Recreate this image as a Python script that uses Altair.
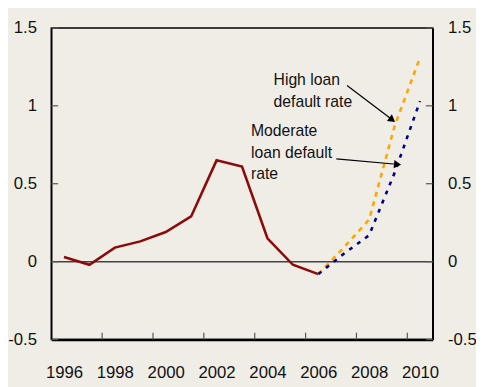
import math
import altair as alt
import pandas as pd

# ---- data ----
hist_years = [1996.5, 1997.5, 1998.5, 1999.5, 2000.5, 2001.5, 2002.5, 2003.5, 2004.5, 2005.5, 2006.5]
hist_vals = [0.03, -0.02, 0.09, 0.13, 0.19, 0.29, 0.65, 0.61, 0.15, -0.02, -0.08]

fc_years = [2006.5, 2007.5, 2008.5, 2009.5, 2010.5]
high_vals = [-0.08, 0.09, 0.27, 0.87, 1.31]
mod_vals = [-0.08, 0.05, 0.17, 0.57, 1.03]

x_ticks = [1996, 1998, 2000, 2002, 2004, 2006, 2008, 2010]
inner_x_ticks = [1998, 2000, 2002, 2004, 2006, 2008, 2010]
y_ticks = [-0.5, 0, 0.5, 1, 1.5]

ann_text = ["High loan\ndefault rate", "Moderate\nloan default\nrate"]
ann_x = [2004.74, 2003.85]
ann_y = [1.134, 0.806]
arrow_x1 = [2007.63, 2007.21]
arrow_y1 = [1.13, 0.66]
arrow_x2 = [2009.37, 2009.57]
arrow_y2 = [0.915, 0.625]

# ---- styling ----
W, H = 388, 317
FONT = "Liberation Sans, Arial, sans-serif"
BG = "#F0EDE7"
RED = "#8B0A0A"
ORANGE = "#FFA500"
NAVY = "#00008B"
FS = 17

xs = alt.Scale(domain=[1996, 2011], nice=False, zero=False)
ys = alt.Scale(domain=[-0.5, 1.5], nice=False, zero=False)

hist = pd.DataFrame({"year": hist_years, "value": hist_vals})
fc = pd.DataFrame({"year": fc_years, "high": high_vals, "mod": mod_vals})
ann = pd.DataFrame({"text": ann_text, "x": ann_x, "y": ann_y})
arr = pd.DataFrame({"x1": arrow_x1, "y1": arrow_y1, "x2": arrow_x2, "y2": arrow_y2})
arr["angle"] = [
    (math.degrees(math.atan2((b - a) * W / 15, (d - c) * H / 2)) % 360)
    for a, b, c, d in zip(arr.x1, arr.x2, arr.y1, arr.y2)
]
xt = pd.DataFrame({"x": inner_x_ticks})
yt = pd.DataFrame({"y": y_ticks})

x_axis = alt.Axis(
    values=x_ticks, format="d", ticks=False, grid=False, labelOffset=W / 15 / 2,
    labelPadding=26, labelFontSize=FS, labelFont=FONT, labelColor="#111",
    domainColor="#000", domainWidth=2.5, title=None, labelFlush=False,
)
yl_axis = alt.Axis(
    values=y_ticks, labelExpr="'' + datum.value", ticks=False, grid=False,
    labelPadding=15, labelFontSize=FS, labelFont=FONT, labelColor="#111",
    domainColor="#000", domainWidth=1.5, title=None, labelFlush=False,
)
yr_axis = alt.Axis(
    values=y_ticks, labelExpr="'' + datum.value", ticks=False, grid=False,
    labelPadding=15, labelFontSize=FS, labelFont=FONT, labelColor="#111",
    domainColor="#000", domainWidth=1.5, title=None, orient="right", labelFlush=False,
)

zero = alt.Chart(pd.DataFrame({"y": [0]})).mark_rule(color="#444", strokeWidth=1.5).encode(
    y=alt.Y("y:Q", scale=ys, axis=yl_axis)
)

xticks = alt.Chart(xt).mark_rule(color="#555", strokeWidth=1.2).encode(
    x=alt.X("x:Q", scale=xs, axis=x_axis), y=alt.value(H), y2=alt.value(H - 7)
)
lticks = alt.Chart(yt).mark_rule(color="#555", strokeWidth=1.2).encode(
    y=alt.Y("y:Q", scale=ys), x=alt.value(0), x2=alt.value(7)
)

line_hist = alt.Chart(hist).mark_line(color=RED, strokeWidth=2.6).encode(
    x=alt.X("year:Q", scale=xs), y=alt.Y("value:Q", scale=ys)
)
line_high = alt.Chart(fc).mark_line(color=ORANGE, strokeWidth=2.6, strokeDash=[5, 5]).encode(
    x=alt.X("year:Q", scale=xs), y=alt.Y("high:Q", scale=ys)
)
line_mod = alt.Chart(fc).mark_line(color=NAVY, strokeWidth=2.6, strokeDash=[4, 6]).encode(
    x=alt.X("year:Q", scale=xs), y=alt.Y("mod:Q", scale=ys)
)

texts = alt.Chart(ann).mark_text(
    align="left", baseline="alphabetic", font=FONT, fontSize=16, lineHeight=22,
    color="#111", lineBreak="\n",
).encode(x=alt.X("x:Q", scale=xs), y=alt.Y("y:Q", scale=ys), text="text:N")

arrow_lines = alt.Chart(arr).mark_rule(color="#000", strokeWidth=1.2).encode(
    x=alt.X("x1:Q", scale=xs), y=alt.Y("y1:Q", scale=ys), x2="x2:Q", y2="y2:Q"
)
arrow_heads = alt.Chart(arr).mark_point(
    shape="triangle", filled=True, color="#000", size=70, opacity=1
).encode(
    x=alt.X("x2:Q", scale=xs), y=alt.Y("y2:Q", scale=ys), angle=alt.Angle("angle:Q", scale=None)
)

left_layer = alt.layer(zero, xticks, lticks, line_hist, line_high, line_mod, texts, arrow_lines, arrow_heads)

rticks = alt.Chart(yt).mark_rule(color="#555", strokeWidth=1.2).encode(
    y=alt.Y("y:Q", scale=ys, axis=yr_axis), x=alt.value(W - 7), x2=alt.value(W)
)

chart = alt.layer(left_layer, rticks).resolve_scale(y="independent").properties(
    width=W, height=H,
    autosize=alt.AutoSizeParams(type="none"),
    padding={"left": 44, "top": 17, "right": 44, "bottom": 45},
    background=BG,
).configure_view(stroke="#000", strokeWidth=1.5)

chart.save("out.html", embed_options={"renderer": "svg", "actions": False})
